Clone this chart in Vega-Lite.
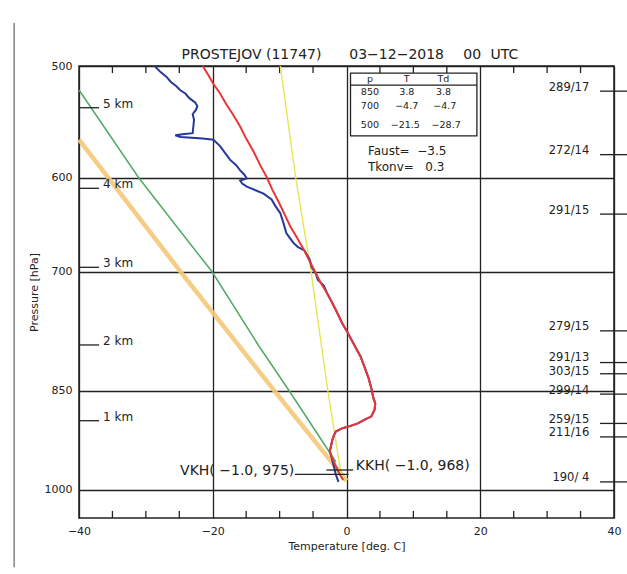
{
  "$schema": "https://vega.github.io/schema/vega-lite/v6.json",
  "width": 535,
  "height": 452,
  "autosize": {"type": "none"},
  "padding": {"left": 79, "top": 66, "right": 13, "bottom": 56},
  "background": "white",
  "config": {
    "font": "DejaVu Sans",
    "view": {"stroke": "#222", "strokeWidth": 1.5},
    "axis": {"labelColor": "#222", "titleColor": "#222", "titleFontWeight": "normal", "gridColor": "#222", "gridWidth": 1.3, "gridOpacity": 1}
  },
  "datasets": {
    "red": [
      {"p": 500, "T": -21.5}, {"p": 508, "T": -20.6}, {"p": 515, "T": -19.9}, {"p": 523, "T": -18.9},
      {"p": 532, "T": -18.0}, {"p": 541, "T": -17.0}, {"p": 552, "T": -15.9}, {"p": 563, "T": -15.0},
      {"p": 575, "T": -13.9}, {"p": 588, "T": -12.9}, {"p": 600, "T": -11.9}, {"p": 612, "T": -11.1},
      {"p": 625, "T": -10.1}, {"p": 638, "T": -9.2}, {"p": 650, "T": -8.4}, {"p": 662, "T": -7.4},
      {"p": 675, "T": -6.4}, {"p": 688, "T": -5.5}, {"p": 700, "T": -4.7}, {"p": 712, "T": -3.9},
      {"p": 725, "T": -2.9}, {"p": 737, "T": -2.1}, {"p": 750, "T": -1.3}, {"p": 762, "T": -0.6},
      {"p": 772, "T": 0.1}, {"p": 788, "T": 1.1}, {"p": 804, "T": 2.1}, {"p": 818, "T": 2.7},
      {"p": 833, "T": 3.3}, {"p": 850, "T": 3.8}, {"p": 860, "T": 4.0}, {"p": 868, "T": 4.3},
      {"p": 877, "T": 4.2}, {"p": 887, "T": 3.7}, {"p": 891, "T": 2.8}, {"p": 897, "T": 1.7},
      {"p": 901, "T": 0.5}, {"p": 904, "T": -0.6}, {"p": 909, "T": -1.6}, {"p": 915, "T": -1.9},
      {"p": 921, "T": -2.1}, {"p": 930, "T": -2.3}, {"p": 939, "T": -2.5}, {"p": 950, "T": -2.1},
      {"p": 962, "T": -1.6}, {"p": 975, "T": -1.0}, {"p": 984, "T": -0.5}
    ],
    "blue": [
      {"p": 500, "T": -28.7}, {"p": 505, "T": -27.8}, {"p": 509, "T": -26.9}, {"p": 513, "T": -26.3},
      {"p": 517, "T": -25.4}, {"p": 520, "T": -24.9}, {"p": 523, "T": -24.1}, {"p": 527, "T": -23.5},
      {"p": 531, "T": -22.6}, {"p": 534, "T": -22.3}, {"p": 537, "T": -22.5}, {"p": 541, "T": -23.0},
      {"p": 546, "T": -22.8}, {"p": 552, "T": -22.9}, {"p": 558, "T": -23.0}, {"p": 559, "T": -24.5},
      {"p": 560, "T": -25.6}, {"p": 561.5, "T": -24.8}, {"p": 563, "T": -21.5}, {"p": 564, "T": -19.9},
      {"p": 570, "T": -18.9}, {"p": 576, "T": -18.2}, {"p": 583, "T": -17.4}, {"p": 588, "T": -16.5},
      {"p": 593, "T": -15.9}, {"p": 597, "T": -15.3}, {"p": 601, "T": -14.9}, {"p": 603, "T": -15.9},
      {"p": 606, "T": -15.6}, {"p": 609, "T": -14.9}, {"p": 616, "T": -12.4}, {"p": 622, "T": -11.2},
      {"p": 629, "T": -10.6}, {"p": 636, "T": -9.9}, {"p": 647, "T": -9.4}, {"p": 657, "T": -9.0},
      {"p": 663, "T": -8.4}, {"p": 668, "T": -7.9}, {"p": 672, "T": -7.3}, {"p": 676, "T": -6.3},
      {"p": 686, "T": -5.5}, {"p": 695, "T": -5.2}, {"p": 702, "T": -4.6}, {"p": 709, "T": -4.3},
      {"p": 716, "T": -3.4}, {"p": 725, "T": -2.9}, {"p": 737, "T": -2.1}, {"p": 750, "T": -1.3},
      {"p": 762, "T": -0.6}, {"p": 772, "T": 0.1}, {"p": 788, "T": 1.1}, {"p": 804, "T": 2.1},
      {"p": 818, "T": 2.7}, {"p": 833, "T": 3.3}, {"p": 850, "T": 3.8}, {"p": 860, "T": 4.0},
      {"p": 868, "T": 4.3}, {"p": 877, "T": 4.2}, {"p": 887, "T": 3.7}, {"p": 891, "T": 2.8},
      {"p": 897, "T": 1.7}, {"p": 901, "T": 0.5}, {"p": 904, "T": -0.6}, {"p": 909, "T": -1.6},
      {"p": 915, "T": -1.9}, {"p": 921, "T": -2.1}, {"p": 930, "T": -2.3}, {"p": 939, "T": -2.5},
      {"p": 950, "T": -2.2}, {"p": 962, "T": -1.9}, {"p": 975, "T": -1.6}, {"p": 987, "T": -1.2}
    ],
    "green": [
      {"p": 520, "T": -40}, {"p": 600, "T": -31.1}, {"p": 650, "T": -25.4}, {"p": 700, "T": -20.1},
      {"p": 789, "T": -13.2}, {"p": 850, "T": -8.6}, {"p": 955, "T": -1.6}
    ],
    "orange": [
      {"p": 564, "T": -40}, {"p": 700, "T": -24.8}, {"p": 850, "T": -10.8}, {"p": 985, "T": 0.0}
    ],
    "yellow": [
      {"p": 500, "T": -9.9}, {"p": 600, "T": -7.6}, {"p": 700, "T": -5.3}, {"p": 850, "T": -2.8},
      {"p": 975, "T": -0.8}, {"p": 987, "T": -0.3}
    ],
    "ticks": [
      {"T": -35, "p": 500, "p2": 505.8}, {"T": -30, "p": 500, "p2": 505.8}, {"T": -25, "p": 500, "p2": 505.8},
      {"T": -15, "p": 500, "p2": 505.8}, {"T": -10, "p": 500, "p2": 505.8}, {"T": -5, "p": 500, "p2": 505.8},
      {"T": 5, "p": 500, "p2": 505.8}, {"T": 10, "p": 500, "p2": 505.8}, {"T": 15, "p": 500, "p2": 505.8},
      {"T": 25, "p": 500, "p2": 505.8}, {"T": 30, "p": 500, "p2": 505.8}, {"T": 35, "p": 500, "p2": 505.8},
      {"T": -35, "p": 1035, "p2": 1047}, {"T": -30, "p": 1035, "p2": 1047}, {"T": -25, "p": 1035, "p2": 1047},
      {"T": -15, "p": 1035, "p2": 1047}, {"T": -10, "p": 1035, "p2": 1047}, {"T": -5, "p": 1035, "p2": 1047},
      {"T": 5, "p": 1035, "p2": 1047}, {"T": 10, "p": 1035, "p2": 1047}, {"T": 15, "p": 1035, "p2": 1047},
      {"T": 25, "p": 1035, "p2": 1047}, {"T": 30, "p": 1035, "p2": 1047}, {"T": 35, "p": 1035, "p2": 1047}
    ],
    "km": [
      {"p": 535.3, "label": "5 km"}, {"p": 610.7, "label": "4 km"}, {"p": 694.9, "label": "3 km"},
      {"p": 789, "label": "2 km"}, {"p": 893, "label": "1 km"}
    ],
    "wind": [
      {"p": 521, "pt": 518.0, "label": "289/17"}, {"p": 578, "pt": 574.7, "label": "272/14"},
      {"p": 637, "pt": 633.4, "label": "291/15"}, {"p": 771, "pt": 766.6, "label": "279/15"},
      {"p": 812, "pt": 805.9, "label": "291/13"}, {"p": 827, "pt": 824.6, "label": "303/15"},
      {"p": 855, "pt": 850.1, "label": "299/14"}, {"p": 897, "pt": 891.9, "label": "259/15"},
      {"p": 917, "pt": 911.8, "label": "211/16"}, {"p": 987, "pt": 981.4, "label": "190/ 4"}
    ],
    "levels": [
      {"name": "VKH", "T": -7.7, "T2": 0.3, "p": 975},
      {"name": "KKH", "T": -3.0, "T2": 1.0, "p": 968}
    ],
    "table": [
      {"T": 3.5, "p": 510.7, "label": "p"}, {"T": 9.0, "p": 510.7, "label": "T"}, {"T": 14.5, "p": 510.7, "label": "Td"},
      {"T": 3.5, "p": 522, "label": "850"}, {"T": 9.0, "p": 522, "label": "3.8"}, {"T": 14.5, "p": 522, "label": "3.8"},
      {"T": 3.5, "p": 534, "label": "700"}, {"T": 9.0, "p": 534, "label": "−4.7"}, {"T": 14.7, "p": 534, "label": "−4.7"},
      {"T": 3.5, "p": 550.6, "label": "500"}, {"T": 8.8, "p": 550.6, "label": "−21.5"}, {"T": 14.9, "p": 550.6, "label": "−28.7"}
    ],
    "titleparts": [
      {"T": -14.2, "p": 491.1, "label": "PROSTEJOV (11747)"},
      {"T": 7.5, "p": 491.1, "label": "03−12−2018"},
      {"T": 18.8, "p": 491.1, "label": "00"},
      {"T": 23.6, "p": 491.1, "label": "UTC"}
    ]
  },
  "encoding": {
    "x": {
      "field": "T", "type": "quantitative",
      "scale": {"domain": [-40, 40], "nice": false, "zero": false},
      "axis": {"values": [-40, -20, 0, 20, 40], "format": "d", "grid": true, "ticks": false, "tickSize": 0, "domain": false,
        "labelPadding": 7, "labelFontSize": 11, "labelFlush": false, "labelOverlap": false, "labelBound": false,
        "title": "Temperature [deg. C]", "titleFontSize": 11, "titlePadding": 4}
    },
    "y": {
      "field": "p", "type": "quantitative",
      "scale": {"type": "log", "domain": [500, 1047], "nice": false, "reverse": true},
      "axis": {"values": [500, 600, 700, 850, 1000], "format": "d", "grid": true, "ticks": false, "tickSize": 0, "domain": false,
        "labelPadding": 7, "labelFontSize": 11, "labelOverlap": false, "labelBound": false,
        "title": "Pressure [hPa]", "titleFontSize": 11, "titlePadding": 5}
    }
  },
  "layer": [
    {
      "data": {"values": [{"T": -49.7, "p": 466, "p2": 1135}]},
      "mark": {"type": "rule", "color": "#666", "strokeWidth": 1.2},
      "encoding": {"y2": {"field": "p2"}}
    },
    {
      "data": {"name": "titleparts"},
      "mark": {"type": "text", "align": "center", "baseline": "middle", "fontSize": 14, "color": "#222"},
      "encoding": {"text": {"field": "label"}}
    },
    {
      "data": {"name": "ticks"},
      "mark": {"type": "rule", "color": "#222", "strokeWidth": 1.3},
      "encoding": {"y2": {"field": "p2"}}
    },
    {
      "data": {"name": "orange"},
      "mark": {"type": "line", "color": "#f6c778", "strokeWidth": 4.5, "opacity": 0.9},
      "encoding": {"order": {"field": "p", "type": "quantitative"}}
    },
    {
      "data": {"name": "green"},
      "mark": {"type": "line", "color": "#52a865", "strokeWidth": 1.5},
      "encoding": {"order": {"field": "p", "type": "quantitative"}}
    },
    {
      "data": {"name": "yellow"},
      "mark": {"type": "line", "color": "#e6e655", "strokeWidth": 1.4},
      "encoding": {"order": {"field": "p", "type": "quantitative"}}
    },
    {
      "data": {"name": "blue"},
      "mark": {"type": "line", "color": "#26399a", "strokeWidth": 2},
      "encoding": {"order": {"field": "p", "type": "quantitative"}}
    },
    {
      "data": {"name": "red"},
      "mark": {"type": "line", "color": "#e8363a", "strokeWidth": 2},
      "encoding": {"order": {"field": "p", "type": "quantitative"}}
    },
    {
      "data": {"name": "levels"},
      "mark": {"type": "rule", "color": "#222", "strokeWidth": 1.3},
      "encoding": {"x2": {"field": "T2"}}
    },
    {
      "data": {"values": [{"T": 1.4, "p": 968, "label": "KKH( −1.0, 968)"}]},
      "mark": {"type": "text", "align": "left", "baseline": "middle", "dy": -4, "fontSize": 14, "color": "#222"},
      "encoding": {"text": {"field": "label"}}
    },
    {
      "data": {"values": [{"T": -7.8, "p": 975, "label": "VKH( −1.0, 975)"}]},
      "mark": {"type": "text", "align": "right", "baseline": "middle", "dy": -3.5, "fontSize": 14, "color": "#222"},
      "encoding": {"text": {"field": "label"}}
    },
    {
      "data": {"name": "km"},
      "transform": [{"calculate": "-40", "as": "T"}, {"calculate": "-37", "as": "T2"}],
      "mark": {"type": "rule", "color": "#222", "strokeWidth": 1.3},
      "encoding": {"x2": {"field": "T2"}}
    },
    {
      "data": {"name": "km"},
      "transform": [{"calculate": "-36.4", "as": "T"}],
      "mark": {"type": "text", "align": "left", "baseline": "middle", "dy": -4, "fontSize": 12, "color": "#222"},
      "encoding": {"text": {"field": "label"}}
    },
    {
      "data": {"name": "wind"},
      "transform": [{"calculate": "37.9", "as": "T"}, {"calculate": "42", "as": "T2"}],
      "mark": {"type": "rule", "color": "#222", "strokeWidth": 1.3},
      "encoding": {"x2": {"field": "T2"}}
    },
    {
      "data": {"name": "wind"},
      "transform": [{"calculate": "36.3", "as": "T"}, {"calculate": "datum.pt", "as": "p"}],
      "mark": {"type": "text", "align": "right", "baseline": "middle", "fontSize": 11.5, "color": "#222"},
      "encoding": {"text": {"field": "label"}}
    },
    {
      "data": {"values": [{"T": 0.6, "T2": 19.5, "p": 505.8, "p2": 560.6}]},
      "mark": {"type": "rect", "fill": "white", "stroke": "#222", "strokeWidth": 1.3},
      "encoding": {"x2": {"field": "T2"}, "y2": {"field": "p2"}}
    },
    {
      "data": {"values": [{"T": 0.6, "T2": 19.5, "p": 515.8}]},
      "mark": {"type": "rule", "color": "#222", "strokeWidth": 1.3},
      "encoding": {"x2": {"field": "T2"}}
    },
    {
      "data": {"name": "table"},
      "mark": {"type": "text", "align": "center", "baseline": "middle", "fontSize": 9.5, "color": "#222"},
      "encoding": {"text": {"field": "label"}}
    },
    {
      "data": {"values": [{"T": 3.2, "p": 574.3, "label": "Faust=\u00a0\u00a0−3.5"}, {"T": 3.2, "p": 590, "label": "Tkonv=\u00a0\u00a0\u00a00.3"}]},
      "mark": {"type": "text", "align": "left", "baseline": "middle", "fontSize": 12, "color": "#222"},
      "encoding": {"text": {"field": "label"}}
    }
  ]
}
